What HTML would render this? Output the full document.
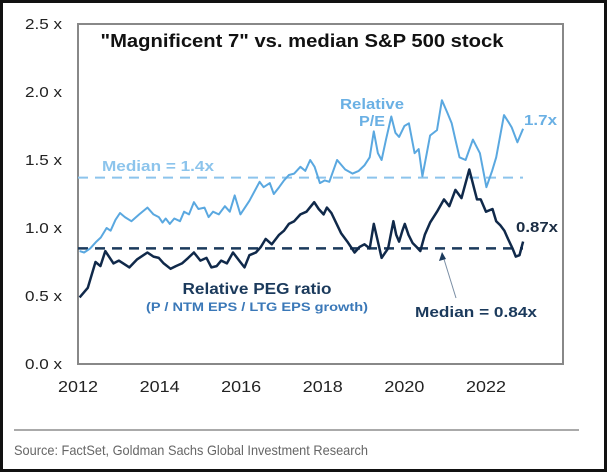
<!DOCTYPE html>
<html><head><meta charset="utf-8"><style>
body{margin:0;background:#fff;}
#wrap{position:relative;width:607px;height:472px;box-sizing:border-box;border:3px solid #111;background:#fff;overflow:hidden;}
svg{position:absolute;left:-3px;top:-3px;}
text{font-family:"Liberation Sans",Arial,sans-serif;}
</style></head><body>
<div id="wrap">
<svg id="chart" width="607" height="472"></svg>
</div>
<script>
const peYears=[0.04,0.15,0.3,0.45,0.56,0.7,0.8,0.92,1.03,1.15,1.31,1.5,1.70,1.85,1.98,2.07,2.15,2.25,2.36,2.5,2.6,2.72,2.84,2.95,3.1,3.2,3.31,3.45,3.6,3.72,3.84,3.98,4.2,4.45,4.55,4.7,4.8,4.93,5.05,5.17,5.3,5.45,5.57,5.69,5.8,5.93,6.05,6.16,6.35,6.55,6.73,6.88,7.02,7.15,7.25,7.35,7.44,7.55,7.68,7.78,7.87,8.0,8.11,8.25,8.35,8.44,8.55,8.63,8.8,8.92,9.05,9.16,9.25,9.35,9.5,9.68,9.85,10.01,10.15,10.25,10.44,10.55,10.63,10.77,10.91];
const peValues=[0.83,0.82,0.85,0.9,0.93,1.0,0.98,1.06,1.11,1.08,1.05,1.1,1.15,1.1,1.08,1.04,1.07,1.03,1.07,1.05,1.12,1.1,1.19,1.14,1.15,1.08,1.12,1.1,1.16,1.12,1.24,1.1,1.2,1.34,1.3,1.33,1.25,1.3,1.35,1.39,1.4,1.45,1.42,1.5,1.45,1.33,1.35,1.34,1.5,1.43,1.4,1.42,1.46,1.52,1.71,1.55,1.5,1.65,1.82,1.7,1.67,1.75,1.77,1.55,1.58,1.38,1.55,1.68,1.72,1.94,1.85,1.77,1.65,1.52,1.5,1.65,1.55,1.3,1.42,1.52,1.83,1.78,1.74,1.63,1.73];
const pegYears=[0.04,0.24,0.43,0.55,0.67,0.87,1.0,1.26,1.45,1.70,1.85,1.98,2.1,2.27,2.4,2.55,2.7,2.84,3.0,3.15,3.27,3.4,3.51,3.65,3.80,3.95,4.08,4.2,4.36,4.48,4.60,4.75,4.93,5.05,5.17,5.3,5.45,5.6,5.79,5.9,6.02,6.1,6.21,6.45,6.6,6.78,6.9,7.02,7.15,7.25,7.35,7.44,7.6,7.73,7.8,7.87,7.95,8.01,8.1,8.20,8.3,8.39,8.5,8.63,8.8,8.97,9.1,9.25,9.4,9.59,9.7,9.78,9.87,10.0,10.16,10.25,10.35,10.45,10.54,10.65,10.73,10.82,10.91];
const pegValues=[0.49,0.56,0.75,0.72,0.83,0.74,0.76,0.71,0.77,0.82,0.79,0.78,0.74,0.7,0.72,0.74,0.78,0.82,0.76,0.78,0.71,0.72,0.76,0.74,0.82,0.76,0.71,0.8,0.82,0.86,0.92,0.88,0.95,0.98,1.03,1.05,1.1,1.12,1.19,1.14,1.1,1.15,1.11,0.96,0.9,0.82,0.86,0.88,0.85,1.03,0.9,0.78,0.85,1.05,0.95,0.9,0.98,1.03,0.95,0.89,0.86,0.83,0.95,1.04,1.12,1.21,1.16,1.28,1.22,1.43,1.3,1.21,1.21,1.12,1.14,1.05,1.02,0.98,0.92,0.85,0.79,0.8,0.9];
const yTicks=[0,0.5,1.0,1.5,2.0,2.5];
const xTicks=[2012,2014,2016,2018,2020,2022];
const peMedian=1.37, pegMedian=0.85;

const svg=document.getElementById('chart');
const NS='http://www.w3.org/2000/svg';
const X=y=>78+(y)*40.8;
const XY=yr=>X(yr-2012);
const Y=v=>364-v*136;
function mk(tag,attrs,txt){const e=document.createElementNS(NS,tag);for(const k in attrs)e.setAttribute(k,attrs[k]);if(txt!==undefined)e.textContent=txt;svg.appendChild(e);return e;}

let e=mk('rect',{x:78,y:24,width:485,height:340,fill:'none',stroke:'#888','stroke-width':2});



yTicks.forEach(v=>{const t=mk('text',{x:62,y:Y(v)+5,'text-anchor':'end','font-size':15,fill:'#222',textLength:37,lengthAdjust:'spacingAndGlyphs'},v.toFixed(1)+' x');

});
xTicks.forEach(v=>{const t=mk('text',{x:XY(v),y:392,'text-anchor':'middle','font-size':16,fill:'#222',textLength:40,lengthAdjust:'spacingAndGlyphs'},String(v));

});

e=mk('line',{x1:78,x2:523,y1:Y(peMedian),y2:Y(peMedian),stroke:'#8cc4ec','stroke-width':2,'stroke-dasharray':'10,7'});


e=mk('line',{x1:78,x2:523,y1:Y(pegMedian),y2:Y(pegMedian),stroke:'#1b3a5c','stroke-width':2.5,'stroke-dasharray':'10,7'});



e=mk('path',{d:peYears.map((y,i)=>(i?'L':'M')+X(y).toFixed(1)+','+Y(peValues[i]).toFixed(1)).join(''),fill:'none',stroke:'#5aa8e0','stroke-width':2,'stroke-linejoin':'round'});


e=mk('path',{d:pegYears.map((y,i)=>(i?'L':'M')+X(y).toFixed(1)+','+Y(pegValues[i]).toFixed(1)).join(''),fill:'none',stroke:'#10294a','stroke-width':2.5,'stroke-linejoin':'round'});



function lab(x,y,s,size,fill,name,anchor,len,w){const a={x:x,y:y,'font-size':size,fill:fill,'font-weight':w||'bold','text-anchor':anchor||'start'};if(len){a.textLength=len;a.lengthAdjust='spacingAndGlyphs';}const t=mk('text',a,s);

}
lab(302,47,'"Magnificent 7" vs. median S&P 500 stock',18,'#111','chart-title','middle',403);
lab(372,109,'Relative',15,'#6ab0e4','pe-label-line1','middle',64);
lab(372,126,'P/E',15,'#6ab0e4','pe-label-line2','middle',26);
lab(524,125,'1.7x',15,'#6ab0e4','pe-last-value','start',33);
lab(102,171,'Median = 1.4x',15,'#8cc4ec','pe-median-label','start',112);
lab(516,232,'0.87x',15,'#1b2d44','peg-last-value','start',42);
lab(257,294,'Relative PEG ratio',16,'#1b3a5c','peg-label','middle',149);
lab(257,311,'(P / NTM EPS / LTG EPS growth)',12,'#3a78b8','peg-sublabel','middle',222);
lab(415,317,'Median = 0.84x',15,'#1b3a5c','peg-median-label','start',122);
e=mk('line',{x1:456,y1:298,x2:443,y2:256,stroke:'#7a8ea4','stroke-width':1});


e=mk('path',{d:'M442,252 L439,261 L446,259 Z',fill:'#1b3a5c'});


e=mk('line',{x1:14,x2:579,y1:430,y2:430,stroke:'#aaa','stroke-width':2});


lab(14,455,'Source: FactSet, Goldman Sachs Global Investment Research',14,'#666','source-note','start',354,'normal');
</script>
</body></html>
